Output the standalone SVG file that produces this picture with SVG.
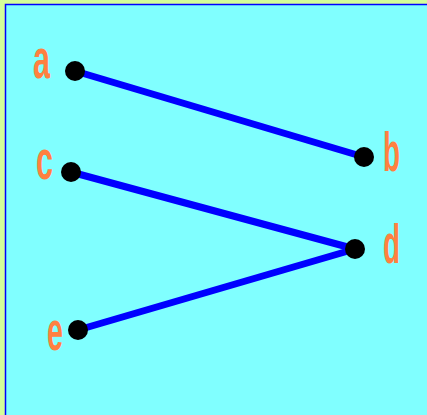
<svg xmlns="http://www.w3.org/2000/svg" width="427" height="415" viewBox="0 0 427 415">
<style>
.lbl{font-family:"Liberation Sans",Arial,sans-serif;font-size:56px;font-weight:bold;fill:#ff8040}
.edge{stroke:#0000ff;stroke-width:7;stroke-linecap:butt;fill:none}
.dot{fill:#000000}
</style>
<rect x="0" y="0" width="427" height="415" fill="#d4ff99"/>
<rect x="5.5" y="4.5" width="430" height="420" fill="#80ffff" stroke="#0000ff" stroke-width="1.5"/>
<g id="connectors">
<line class="edge" x1="75" y1="71" x2="364" y2="157"/>
<line class="edge" x1="71" y1="172" x2="355" y2="249"/>
<line class="edge" x1="78" y1="330" x2="355" y2="249"/>
</g>
<g id="a"><circle class="dot" cx="75" cy="71" r="10"/><text class="lbl" x="33" y="78" textLength="17" lengthAdjust="spacingAndGlyphs">a</text></g>
<g id="b"><circle class="dot" cx="364" cy="157" r="10"/><text class="lbl" x="383" y="171" textLength="17" lengthAdjust="spacingAndGlyphs">b</text></g>
<g id="c"><circle class="dot" cx="71" cy="172" r="10"/><text class="lbl" x="36" y="179" textLength="17" lengthAdjust="spacingAndGlyphs">c</text></g>
<g id="d"><circle class="dot" cx="355" cy="249" r="10"/><text class="lbl" x="383" y="263" textLength="17" lengthAdjust="spacingAndGlyphs">d</text></g>
<g id="e"><circle class="dot" cx="78" cy="330" r="10"/><text class="lbl" x="47" y="350" textLength="16" lengthAdjust="spacingAndGlyphs">e</text></g>
</svg>
